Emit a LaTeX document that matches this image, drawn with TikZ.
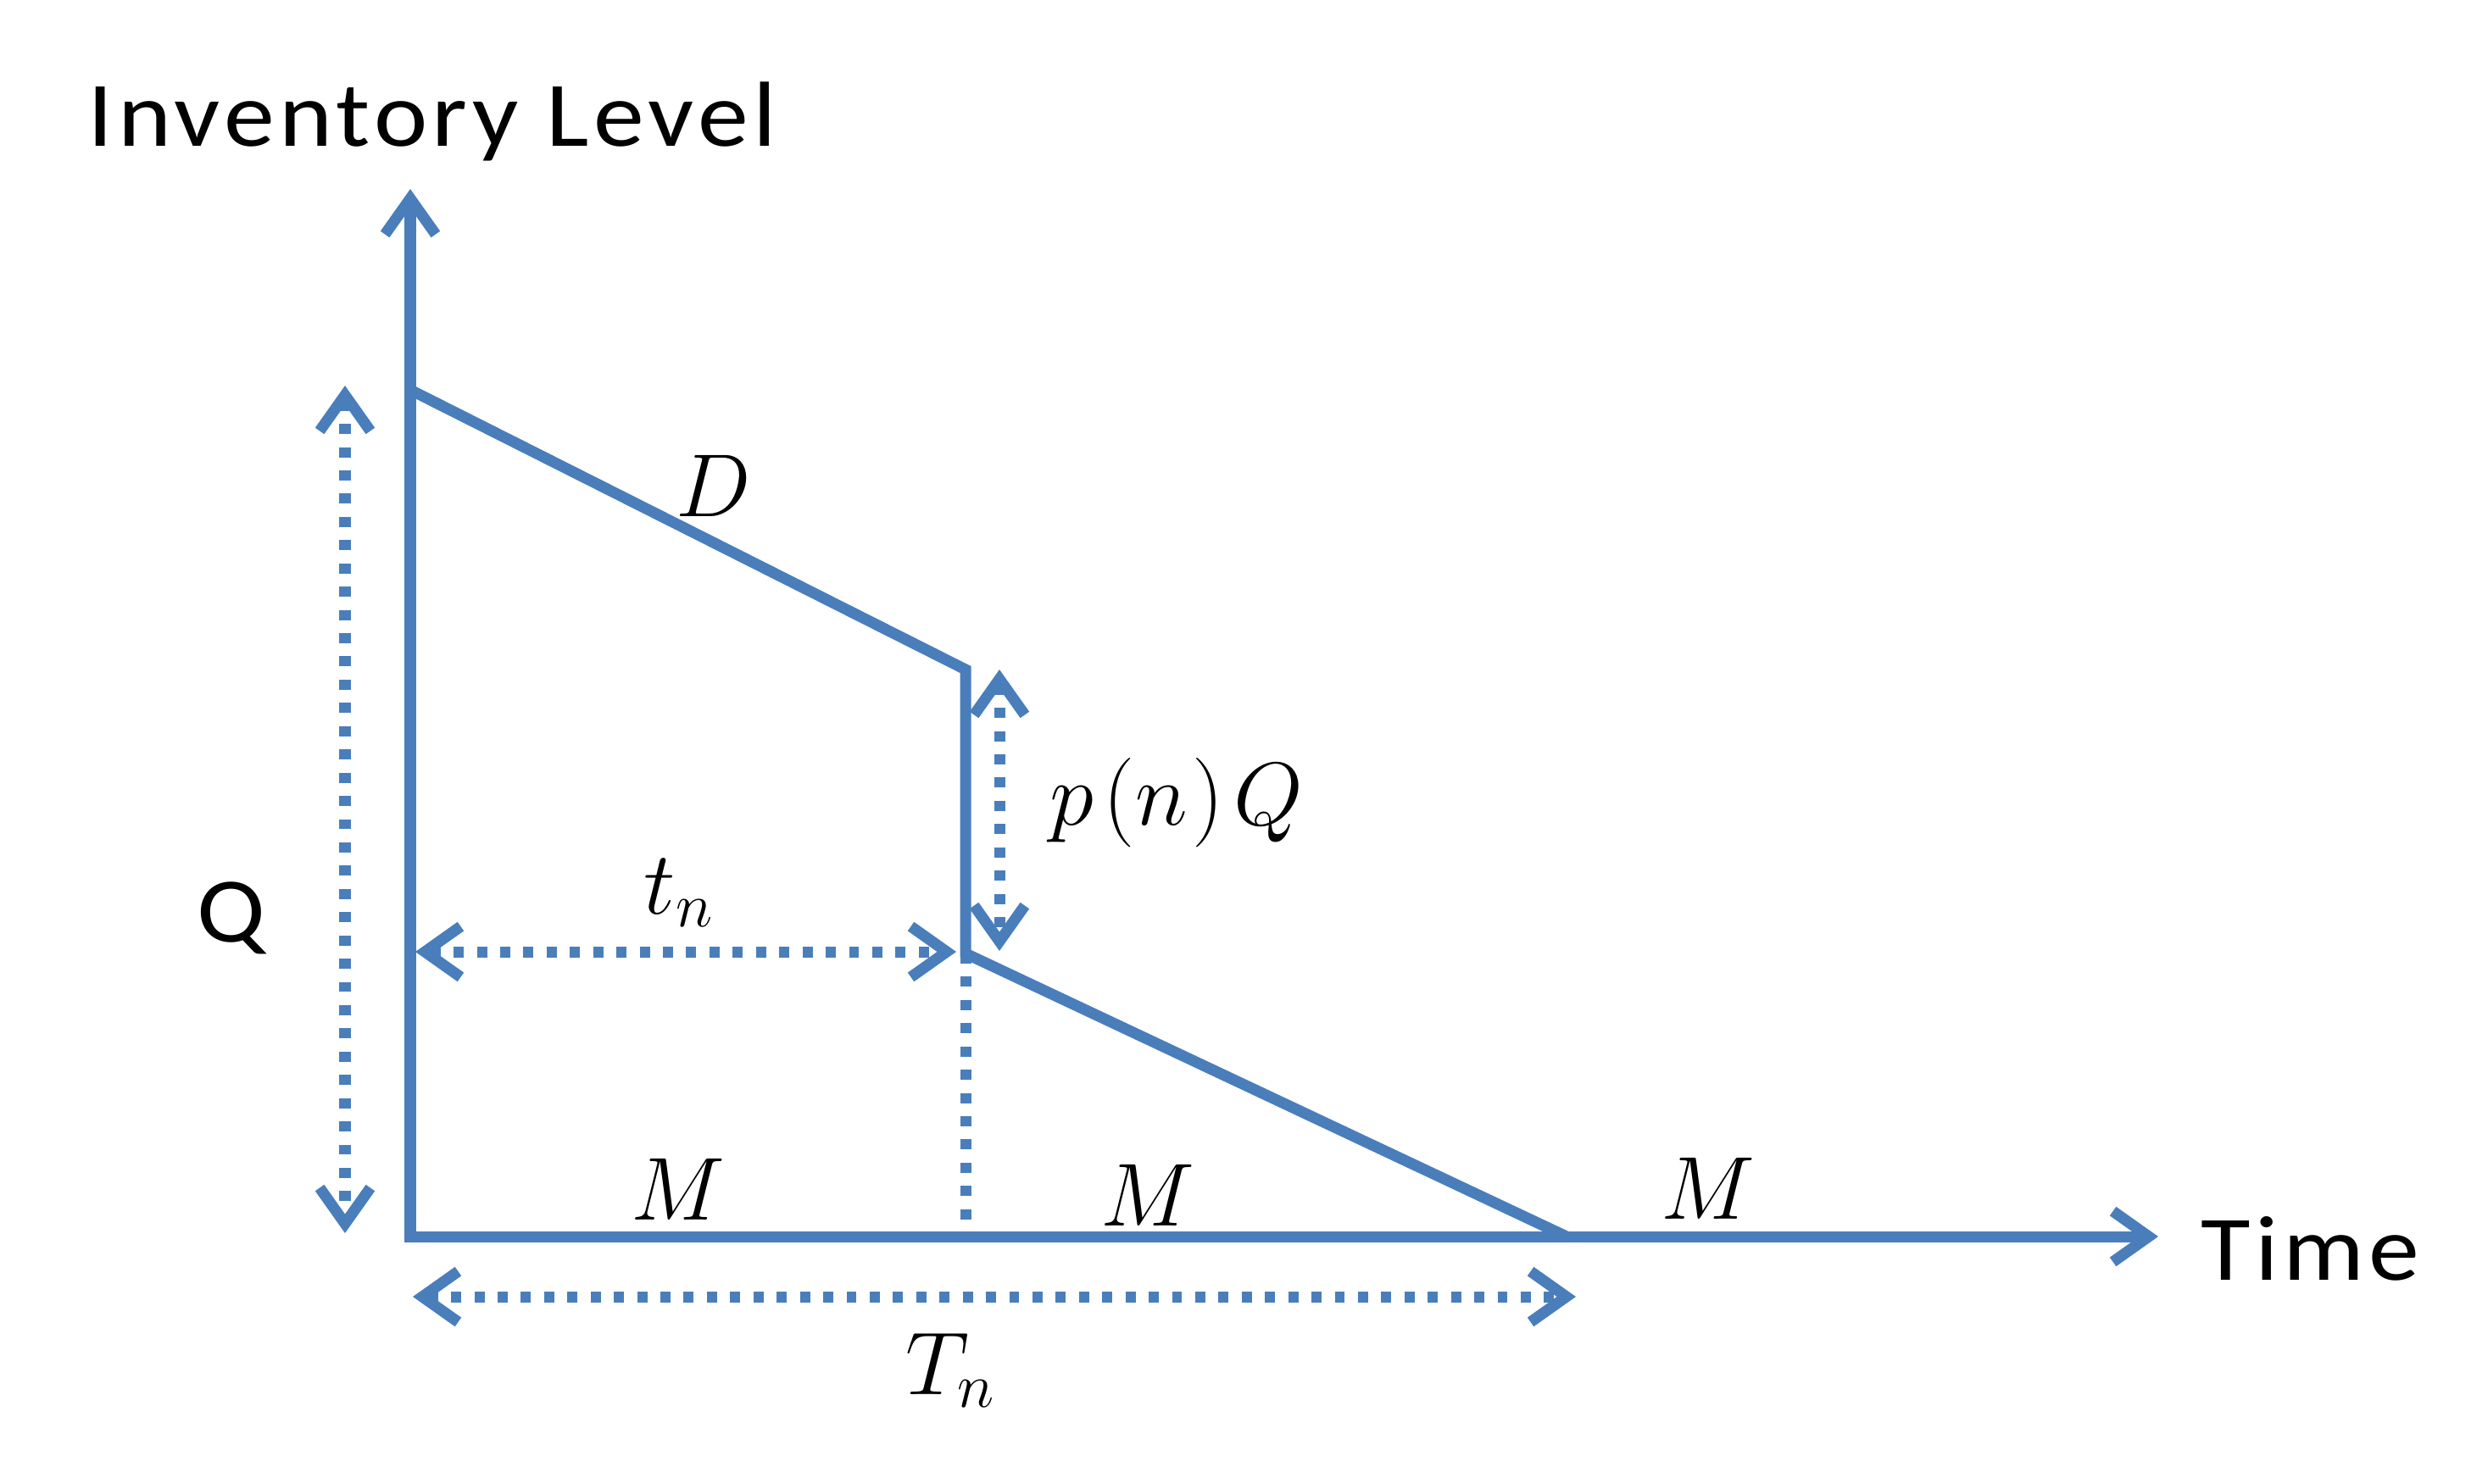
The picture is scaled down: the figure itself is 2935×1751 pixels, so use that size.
\documentclass[tikz,border=0pt]{standalone}
\usepackage{fix-cm}
\usepackage{fontspec}
\setmainfont{Carlito}[FakeStretch=1.1,LetterSpace=5]
\usetikzlibrary{arrows.meta}
\definecolor{lineblue}{HTML}{4A7EBB}
\begin{document}
\begin{tikzpicture}[x=0.01cm,y=-0.01cm,
  barb/.tip={Straight Barb[length=12pt,width=17pt]},
  curve/.style={draw=lineblue,line width=3.7pt,line join=miter},
  axisline/.style={curve,barb-barb},
  dimline/.style={draw=lineblue,line width=3.7pt,dash pattern=on 3.4pt off 4.4pt},
  dimarrow/.style={dimline,barb-barb},
  lbl/.style={inner sep=0pt,font=\fontsize{31}{37}\selectfont},
  mlbl/.style={inner sep=0pt,font=\fontsize{30}{36}\selectfont},
]
\useasboundingbox (0,0) rectangle (2935,1751);
% key points
\coordinate (O) at (484,1459);
\coordinate (Ytop) at (484,223);
\coordinate (Xend) at (2546,1459);
\coordinate (A) at (484,460);
\coordinate (B) at (1139,790);
\coordinate (C) at (1139,1125);
\coordinate (E) at (1848,1459);
\coordinate (Cb) at (1139,1459);
\coordinate (Qt) at (407,455);
\coordinate (Qb) at (407,1455);
\coordinate (Pt) at (1179,790);
\coordinate (Pb) at (1179,1122);
\coordinate (tl) at (490,1123);
\coordinate (tr) at (1128,1123);
\coordinate (Tl) at (487,1530);
\coordinate (Tr) at (1859,1530);
% axes
\draw[axisline] (Ytop) -- (O) -- (Xend);
% inventory curve
\draw[curve] (A) -- (B) -- (C) -- (E);
% dimension lines
\draw[dimline] (C) -- (Cb);
\draw[dimarrow] (Qt) -- (Qb);
\draw[dimarrow] (Pt) -- (Pb);
\draw[dimarrow] (tl) -- (tr);
\draw[dimarrow] (Tl) -- (Tr);
% labels
\node[lbl,anchor=base west] (ylab) at (103,172) {Inventory Level};
\node[lbl,anchor=base west] (xlab) at (2596,1510) {Time};
\node[lbl,anchor=base] (qlab) at (273,1111) {Q};
\node[mlbl,anchor=base] (dlab) at (842,609) {$D$};
\node[mlbl,anchor=base] (plab) at (1388,973) {$p\mkern2mu(n\mkern1mu)\mkern2mu Q$};
\node[mlbl,anchor=base west] (tlab) at (759,1078) {$t_n$};
\node[mlbl,anchor=base west] (Tlab) at (1068,1645) {$T_n$};
\node[mlbl,anchor=base] (m1) at (800,1439) {$M$};
\node[mlbl,anchor=base] (m2) at (1354,1446) {$M$};
\node[mlbl,anchor=base] (m3) at (2015,1438) {$M$};
\end{tikzpicture}
\end{document}
